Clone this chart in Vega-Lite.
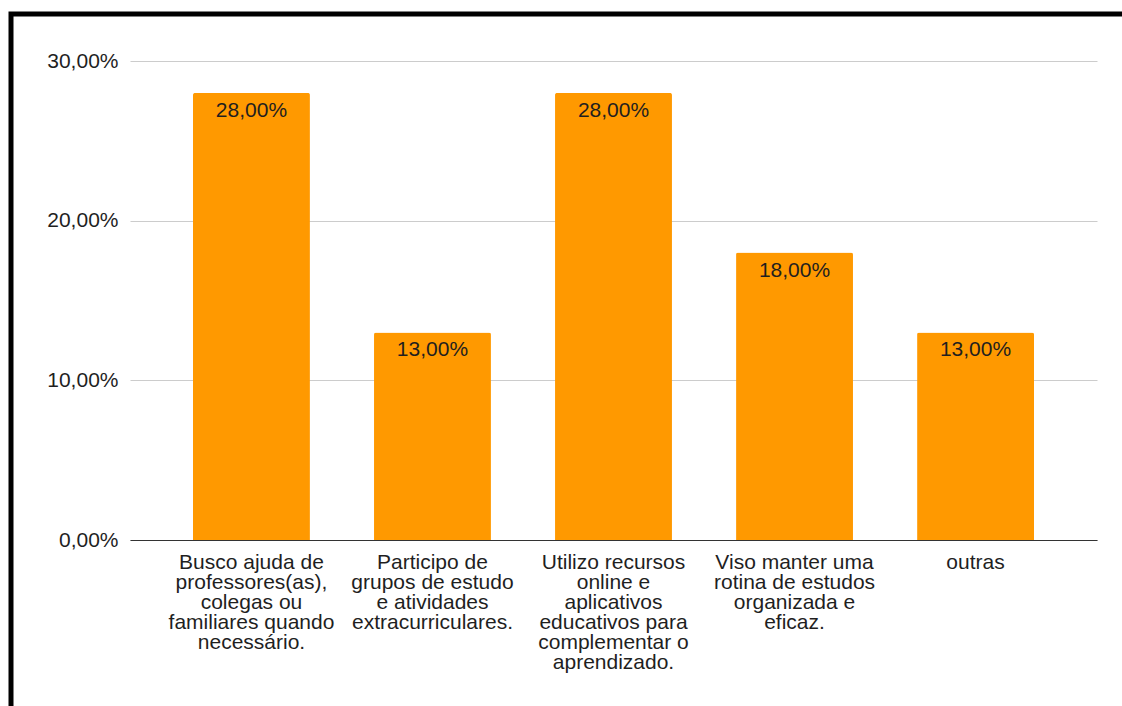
{
  "$schema": "https://vega.github.io/schema/vega-lite/v6.json",
  "autosize": "none",
  "width": 1117,
  "height": 698,
  "padding": {"left": 11, "top": 14, "right": -6, "bottom": -6},
  "background": "white",
  "config": {
    "locale": {"number": {"decimal": ",", "thousands": ".", "grouping": [3], "currency": ["R$", ""]}},
    "view": {"stroke": "#000000", "strokeWidth": 5},
    "font": "Liberation Sans"
  },
  "data": {
    "values": [
      {"estrategia": "Busco ajuda de professores(as), colegas ou familiares quando necessário.", "percentual": 0.28},
      {"estrategia": "Participo de grupos de estudo e atividades extracurriculares.", "percentual": 0.13},
      {"estrategia": "Utilizo recursos online e aplicativos educativos para complementar o aprendizado.", "percentual": 0.28},
      {"estrategia": "Viso manter uma rotina de estudos organizada e eficaz.", "percentual": 0.18},
      {"estrategia": "outras", "percentual": 0.13}
    ]
  },
  "encoding": {
    "x": {
      "field": "estrategia",
      "type": "nominal",
      "sort": null,
      "scale": {"range": [119, 1086], "paddingInner": 0.354, "paddingOuter": 0.348},
      "axis": {
        "title": null,
        "orient": "bottom",
        "offset": -172,
        "labelAngle": 0,
        "domainColor": "#333333",
        "domainWidth": 1,
        "ticks": false,
        "tickSize": 0,
        "labelPadding": 11,
        "labelFontSize": 21,
        "labelLineHeight": 20,
        "labelColor": "#1f1f1f",
        "labelLimit": 0,
        "labelExpr": "datum.value == 'outras' ? 'outras' : indexof(datum.value, 'Busco') == 0 ? ['Busco ajuda de', 'professores(as),', 'colegas ou', 'familiares quando', 'necessário.'] : indexof(datum.value, 'Participo') == 0 ? ['Participo de', 'grupos de estudo', 'e atividades', 'extracurriculares.'] : indexof(datum.value, 'Utilizo') == 0 ? ['Utilizo recursos', 'online e', 'aplicativos', 'educativos para', 'complementar o', 'aprendizado.'] : ['Viso manter uma', 'rotina de estudos', 'organizada e', 'eficaz.']"
      }
    },
    "y": {
      "field": "percentual",
      "type": "quantitative",
      "scale": {"domain": [0, 0.3], "range": [526, 47], "nice": false, "zero": true},
      "axis": {
        "title": null,
        "values": [0, 0.1, 0.2, 0.3],
        "format": ".2%",
        "offset": -119,
        "domain": false,
        "ticks": false,
        "tickSize": 0,
        "labelPadding": 12,
        "labelFontSize": 21,
        "labelColor": "#1f1f1f",
        "gridColor": "#cccccc",
        "gridWidth": 1
      }
    }
  },
  "layer": [
    {"mark": {"type": "bar", "color": "#ff9900", "cornerRadiusTopLeft": 2, "cornerRadiusTopRight": 2}},
    {
      "mark": {"type": "text", "baseline": "top", "dy": 7, "fontSize": 21, "color": "#1f1f1f"},
      "encoding": {"text": {"field": "percentual", "type": "quantitative", "format": ".2%"}}
    }
  ]
}
